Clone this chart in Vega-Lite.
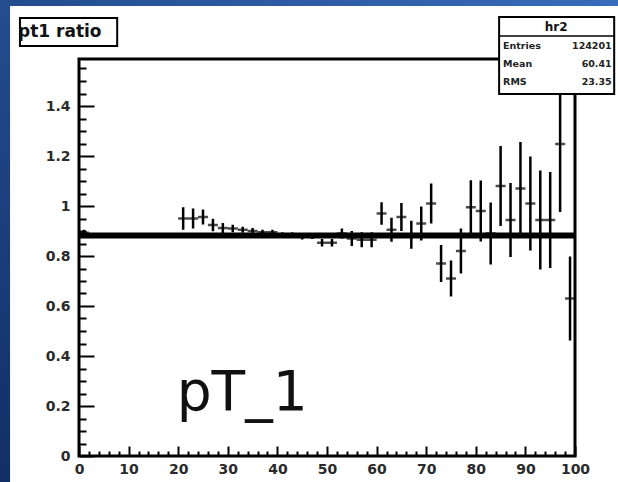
{
  "$schema": "https://vega.github.io/schema/vega-lite/v6.json",
  "width": 496,
  "height": 397,
  "autosize": {"type": "none"},
  "padding": {"left": 79, "top": 59, "right": 43, "bottom": 26},
  "background": "#1d4790",
  "config": {"view": {"stroke": null}, "font": "Liberation Sans"},
  "data": {"values": [{}]},
  "datasets": {
    "ratio": [
      {"x": 1, "y": 0.893, "err": 0.012},
      {"x": 21, "y": 0.95, "err": 0.045},
      {"x": 23, "y": 0.95, "err": 0.04},
      {"x": 25, "y": 0.956, "err": 0.03},
      {"x": 27, "y": 0.924, "err": 0.025},
      {"x": 29, "y": 0.912, "err": 0.02},
      {"x": 31, "y": 0.91, "err": 0.015},
      {"x": 33, "y": 0.905, "err": 0.012},
      {"x": 35, "y": 0.9, "err": 0.012},
      {"x": 37, "y": 0.895, "err": 0.01},
      {"x": 39, "y": 0.895, "err": 0.01},
      {"x": 41, "y": 0.885, "err": 0.01},
      {"x": 43, "y": 0.885, "err": 0.01},
      {"x": 45, "y": 0.878, "err": 0.012},
      {"x": 47, "y": 0.88, "err": 0.012},
      {"x": 49, "y": 0.853, "err": 0.015},
      {"x": 51, "y": 0.853, "err": 0.015},
      {"x": 53, "y": 0.89, "err": 0.02},
      {"x": 55, "y": 0.87, "err": 0.03},
      {"x": 57, "y": 0.865, "err": 0.03},
      {"x": 59, "y": 0.865, "err": 0.03},
      {"x": 61, "y": 0.97, "err": 0.045},
      {"x": 63, "y": 0.905, "err": 0.048},
      {"x": 65, "y": 0.956, "err": 0.056},
      {"x": 67, "y": 0.885, "err": 0.056},
      {"x": 69, "y": 0.93, "err": 0.068},
      {"x": 71, "y": 1.01, "err": 0.08},
      {"x": 73, "y": 0.77, "err": 0.074},
      {"x": 75, "y": 0.71, "err": 0.072},
      {"x": 77, "y": 0.82, "err": 0.09},
      {"x": 79, "y": 0.995, "err": 0.108},
      {"x": 81, "y": 0.98, "err": 0.122},
      {"x": 83, "y": 0.89, "err": 0.124},
      {"x": 85, "y": 1.08, "err": 0.16},
      {"x": 87, "y": 0.944, "err": 0.148},
      {"x": 89, "y": 1.07, "err": 0.186},
      {"x": 91, "y": 1.01, "err": 0.188},
      {"x": 93, "y": 0.944, "err": 0.198},
      {"x": 95, "y": 0.944, "err": 0.192},
      {"x": 97, "y": 1.248, "err": 0.272},
      {"x": 99, "y": 0.63, "err": 0.168}
    ]
  },
  "resolve": {"axis": {"x": "independent", "y": "independent"}},
  "layer": [
    {
      "description": "slide backdrop",
      "mark": {
        "type": "rect",
        "color": {
          "gradient": "linear", "x1": 0, "y1": 1, "x2": 1, "y2": 0,
          "stops": [{"offset": 0, "color": "#0f2a60"}, {"offset": 1, "color": "#3b72c2"}]
        }
      },
      "encoding": {
        "x": {"datum": -20, "type": "quantitative", "scale": {"domain": [0, 100], "nice": false, "zero": false}, "axis": null},
        "x2": {"datum": 120},
        "y": {"datum": -0.3, "type": "quantitative", "scale": {"domain": [0, 1.588], "nice": false, "zero": false}, "axis": null},
        "y2": {"datum": 2.0}
      }
    },
    {
      "description": "canvas",
      "mark": {"type": "rect", "color": "white"},
      "encoding": {
        "x": {"datum": -13.9, "type": "quantitative", "scale": {"domain": [0, 100], "nice": false, "zero": false}, "axis": null},
        "x2": {"datum": 120},
        "y": {"datum": -0.3, "type": "quantitative", "scale": {"domain": [0, 1.588], "nice": false, "zero": false}, "axis": null},
        "y2": {"datum": 1.8}
      }
    },
    {
      "description": "fit",
      "mark": {"type": "rule", "color": "black", "strokeWidth": 6},
      "encoding": {
        "y": {"datum": 0.882, "type": "quantitative", "scale": {"domain": [0, 1.588], "nice": false, "zero": false}, "axis": null}
      }
    },
    {
      "data": {"name": "ratio"},
      "mark": {"type": "errorbar", "thickness": 2.5, "color": "black"},
      "encoding": {
        "x": {
          "field": "x", "type": "quantitative",
          "scale": {"domain": [0, 100], "nice": false, "zero": false},
          "axis": {
            "orient": "bottom", "title": null, "domain": false, "grid": false, "zindex": 1,
            "values": [2,4,6,8,12,14,16,18,22,24,26,28,32,34,36,38,42,44,46,48,52,54,56,58,62,64,66,68,72,74,76,78,82,84,86,88,92,94,96,98],
            "labels": false, "tickSize": -5, "tickWidth": 2, "tickColor": "black"
          }
        },
        "y": {
          "field": "y", "type": "quantitative",
          "scale": {"domain": [0, 1.588], "nice": false, "zero": false},
          "axis": {
            "orient": "left", "title": null, "domain": false, "grid": false, "zindex": 1,
            "values": [0.05,0.1,0.15,0.25,0.3,0.35,0.45,0.5,0.55,0.65,0.7,0.75,0.85,0.9,0.95,1.05,1.1,1.15,1.25,1.3,1.35,1.45,1.5,1.55],
            "labels": false, "tickSize": -7, "tickWidth": 2, "tickColor": "black"
          }
        },
        "yError": {"field": "err"}
      }
    },
    {
      "data": {"name": "ratio"},
      "mark": {"type": "tick", "orient": "horizontal", "size": 10, "thickness": 2.5, "color": "black"},
      "encoding": {
        "x": {
          "field": "x", "type": "quantitative",
          "scale": {"domain": [0, 100], "nice": false, "zero": false},
          "axis": {
            "orient": "bottom", "title": null, "domain": false, "grid": false, "zindex": 1,
            "values": [0,10,20,30,40,50,60,70,80,90,100],
            "format": "d",
            "tickSize": -10, "tickWidth": 2, "tickColor": "black",
            "labelFont": "DejaVu Sans", "labelFontSize": 14, "labelFontWeight": "bold", "labelColor": "#2a2a2a",
            "labelPadding": 16, "labelFlush": false, "labelOverlap": false, "labelBound": false
          }
        },
        "y": {
          "field": "y", "type": "quantitative",
          "scale": {"domain": [0, 1.588], "nice": false, "zero": false},
          "axis": {
            "orient": "left", "title": null, "domain": false, "grid": false, "zindex": 1,
            "values": [0,0.2,0.4,0.6,0.8,1,1.2,1.4],
            "format": "~g",
            "tickSize": -15, "tickWidth": 2, "tickColor": "black",
            "labelFont": "DejaVu Sans", "labelFontSize": 14, "labelFontWeight": "bold", "labelColor": "#2a2a2a",
            "labelPadding": 24, "labelFlush": false, "labelOverlap": false, "labelBound": false
          }
        }
      }
    },
    {
      "description": "frame",
      "mark": {"type": "rect", "filled": false, "stroke": "black", "strokeWidth": 3},
      "encoding": {
        "x": {"datum": 0, "type": "quantitative", "scale": {"domain": [0, 100], "nice": false, "zero": false}, "axis": null},
        "x2": {"datum": 100},
        "y": {"datum": 0, "type": "quantitative", "scale": {"domain": [0, 1.588], "nice": false, "zero": false}, "axis": null},
        "y2": {"datum": 1.588}
      }
    },
    {
      "description": "stats box",
      "mark": {"type": "rect", "fill": "white", "stroke": "black", "strokeWidth": 2},
      "encoding": {
        "x": {"datum": 84.7, "type": "quantitative", "scale": {"domain": [0, 100], "nice": false, "zero": false}, "axis": null},
        "x2": {"datum": 107.9},
        "y": {"datum": 1.448, "type": "quantitative", "scale": {"domain": [0, 1.588], "nice": false, "zero": false}, "axis": null},
        "y2": {"datum": 1.756}
      }
    },
    {
      "mark": {"type": "rule", "color": "black", "strokeWidth": 1.5},
      "encoding": {
        "x": {"datum": 84.7, "type": "quantitative", "scale": {"domain": [0, 100], "nice": false, "zero": false}, "axis": null},
        "x2": {"datum": 107.9},
        "y": {"datum": 1.68, "type": "quantitative", "scale": {"domain": [0, 1.588], "nice": false, "zero": false}, "axis": null}
      }
    },
    {
      "mark": {"type": "text", "text": "hr2", "font": "DejaVu Sans", "fontSize": 12, "fontWeight": "bold", "align": "center", "baseline": "middle", "color": "#111"},
      "encoding": {
        "x": {"datum": 96.2, "type": "quantitative", "scale": {"domain": [0, 100], "nice": false, "zero": false}, "axis": null},
        "y": {"datum": 1.716, "type": "quantitative", "scale": {"domain": [0, 1.588], "nice": false, "zero": false}, "axis": null}
      }
    },
    {
      "data": {"values": [
        {"name": "Entries", "val": "124201", "row": 1.64},
        {"name": "Mean", "val": "60.41", "row": 1.568},
        {"name": "RMS", "val": "23.35", "row": 1.496}
      ]},
      "layer": [
        {
          "mark": {"type": "text", "font": "DejaVu Sans", "fontSize": 9.5, "fontWeight": "bold", "align": "left", "baseline": "middle", "color": "#222"},
          "encoding": {
            "x": {"datum": 85.5, "type": "quantitative", "scale": {"domain": [0, 100], "nice": false, "zero": false}, "axis": null},
            "y": {"field": "row", "type": "quantitative", "scale": {"domain": [0, 1.588], "nice": false, "zero": false}, "axis": null},
            "text": {"field": "name"}
          }
        },
        {
          "mark": {"type": "text", "font": "DejaVu Sans", "fontSize": 9.5, "fontWeight": "bold", "align": "right", "baseline": "middle", "color": "#222"},
          "encoding": {
            "x": {"datum": 107.4, "type": "quantitative", "scale": {"domain": [0, 100], "nice": false, "zero": false}, "axis": null},
            "y": {"field": "row", "type": "quantitative", "scale": {"domain": [0, 1.588], "nice": false, "zero": false}, "axis": null},
            "text": {"field": "val"}
          }
        }
      ]
    },
    {
      "description": "title box",
      "mark": {"type": "rect", "fill": "white", "stroke": "black", "strokeWidth": 2},
      "encoding": {
        "x": {"datum": -11.9, "type": "quantitative", "scale": {"domain": [0, 100], "nice": false, "zero": false}, "axis": null},
        "x2": {"datum": 7.7},
        "y": {"datum": 1.64, "type": "quantitative", "scale": {"domain": [0, 1.588], "nice": false, "zero": false}, "axis": null},
        "y2": {"datum": 1.752}
      }
    },
    {
      "mark": {"type": "text", "text": "pt1 ratio", "font": "DejaVu Sans", "fontSize": 17, "fontWeight": "bold", "align": "left", "baseline": "middle", "color": "#111"},
      "encoding": {
        "x": {"datum": -12.3, "type": "quantitative", "scale": {"domain": [0, 100], "nice": false, "zero": false}, "axis": null},
        "y": {"datum": 1.696, "type": "quantitative", "scale": {"domain": [0, 1.588], "nice": false, "zero": false}, "axis": null}
      }
    },
    {
      "mark": {"type": "text", "text": "pT_1", "font": "DejaVu Sans", "fontSize": 55, "align": "center", "baseline": "middle", "color": "#111"},
      "encoding": {
        "x": {"datum": 32.9, "type": "quantitative", "scale": {"domain": [0, 100], "nice": false, "zero": false}, "axis": null},
        "y": {"datum": 0.252, "type": "quantitative", "scale": {"domain": [0, 1.588], "nice": false, "zero": false}, "axis": null}
      }
    }
  ]
}
